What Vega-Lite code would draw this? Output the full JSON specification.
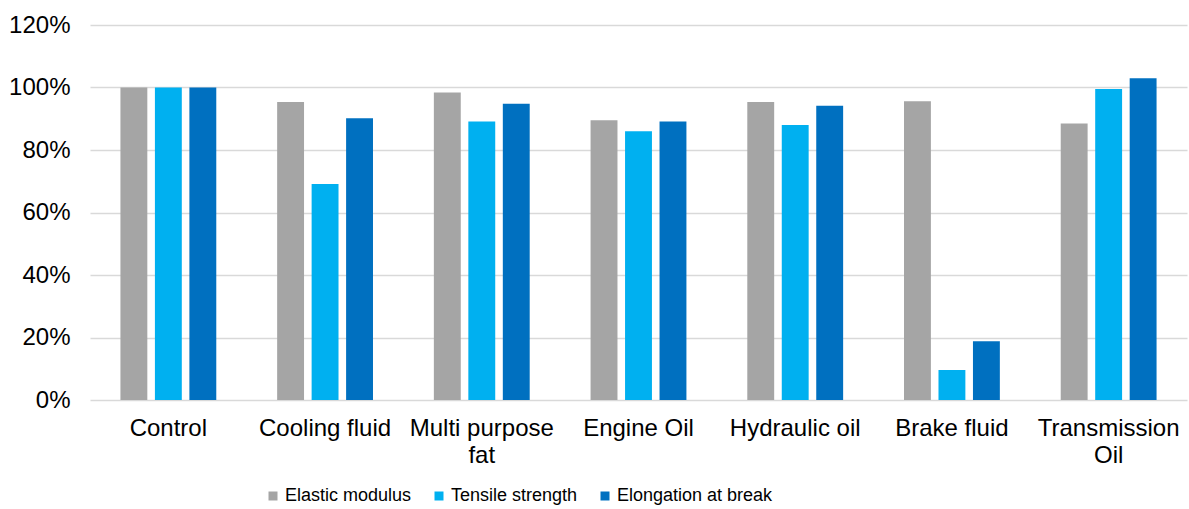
{
  "$schema": "https://vega.github.io/schema/vega-lite/v6.json",
  "width": 1097,
  "height": 375,
  "autosize": {"type": "none"},
  "padding": {"left": 90, "top": 25, "right": 2, "bottom": 109},
  "background": "white",
  "config": {
    "view": {"stroke": null},
    "font": "Liberation Sans"
  },
  "data": {
    "values": [
      {"cat": "Control", "metric": "Elastic modulus", "v": 1.0},
      {"cat": "Control", "metric": "Tensile strength", "v": 1.0},
      {"cat": "Control", "metric": "Elongation at break", "v": 1.0},
      {"cat": "Cooling fluid", "metric": "Elastic modulus", "v": 0.954},
      {"cat": "Cooling fluid", "metric": "Tensile strength", "v": 0.691},
      {"cat": "Cooling fluid", "metric": "Elongation at break", "v": 0.902},
      {"cat": "Multi purpose fat", "metric": "Elastic modulus", "v": 0.984},
      {"cat": "Multi purpose fat", "metric": "Tensile strength", "v": 0.891},
      {"cat": "Multi purpose fat", "metric": "Elongation at break", "v": 0.948},
      {"cat": "Engine Oil", "metric": "Elastic modulus", "v": 0.895},
      {"cat": "Engine Oil", "metric": "Tensile strength", "v": 0.86},
      {"cat": "Engine Oil", "metric": "Elongation at break", "v": 0.891},
      {"cat": "Hydraulic oil", "metric": "Elastic modulus", "v": 0.954},
      {"cat": "Hydraulic oil", "metric": "Tensile strength", "v": 0.88},
      {"cat": "Hydraulic oil", "metric": "Elongation at break", "v": 0.942},
      {"cat": "Brake fluid", "metric": "Elastic modulus", "v": 0.956},
      {"cat": "Brake fluid", "metric": "Tensile strength", "v": 0.096},
      {"cat": "Brake fluid", "metric": "Elongation at break", "v": 0.188},
      {"cat": "Transmission Oil", "metric": "Elastic modulus", "v": 0.885},
      {"cat": "Transmission Oil", "metric": "Tensile strength", "v": 0.995},
      {"cat": "Transmission Oil", "metric": "Elongation at break", "v": 1.03}
    ]
  },
  "mark": {"type": "bar"},
  "encoding": {
    "x": {
      "field": "cat",
      "type": "nominal",
      "sort": null,
      "scale": {"paddingInner": 0.34, "paddingOuter": 0.17},
      "axis": {
        "title": null,
        "labelAngle": 0,
        "labelFontSize": 24,
        "labelColor": "#000000",
        "labelPadding": 16,
        "labelLineHeight": 27,
        "labelBaseline": "top",
        "labelLimit": 300,
        "ticks": false,
        "domain": false,
        "labelExpr": "datum.label == 'Multi purpose fat' ? ['Multi purpose', 'fat'] : (datum.label == 'Transmission Oil' ? ['Transmission', 'Oil'] : datum.label)"
      }
    },
    "xOffset": {
      "field": "metric",
      "type": "nominal",
      "sort": ["Elastic modulus", "Tensile strength", "Elongation at break"],
      "scale": {"paddingInner": 0.22, "paddingOuter": 0.11}
    },
    "y": {
      "field": "v",
      "type": "quantitative",
      "scale": {"domain": [0, 1.2], "nice": false},
      "axis": {
        "title": null,
        "format": ".0%",
        "values": [0, 0.2, 0.4, 0.6, 0.8, 1.0, 1.2],
        "labelFontSize": 24,
        "labelColor": "#000000",
        "labelPadding": 20,
        "ticks": false,
        "domain": false,
        "gridColor": "#D9D9D9",
        "gridWidth": 1.5
      }
    },
    "color": {
      "field": "metric",
      "type": "nominal",
      "sort": ["Elastic modulus", "Tensile strength", "Elongation at break"],
      "scale": {
        "domain": ["Elastic modulus", "Tensile strength", "Elongation at break"],
        "range": ["#A5A5A5", "#00B0F0", "#0070C0"]
      },
      "legend": {
        "title": null,
        "orient": "none",
        "legendX": 174,
        "legendY": 462,
        "direction": "horizontal",
        "symbolType": "square",
        "symbolSize": 81,
        "symbolStrokeWidth": 0,
        "labelFontSize": 18,
        "labelLimit": 400,
        "labelColor": "#000000",
        "labelOffset": 3,
        "columnPadding": 18
      }
    }
  }
}
